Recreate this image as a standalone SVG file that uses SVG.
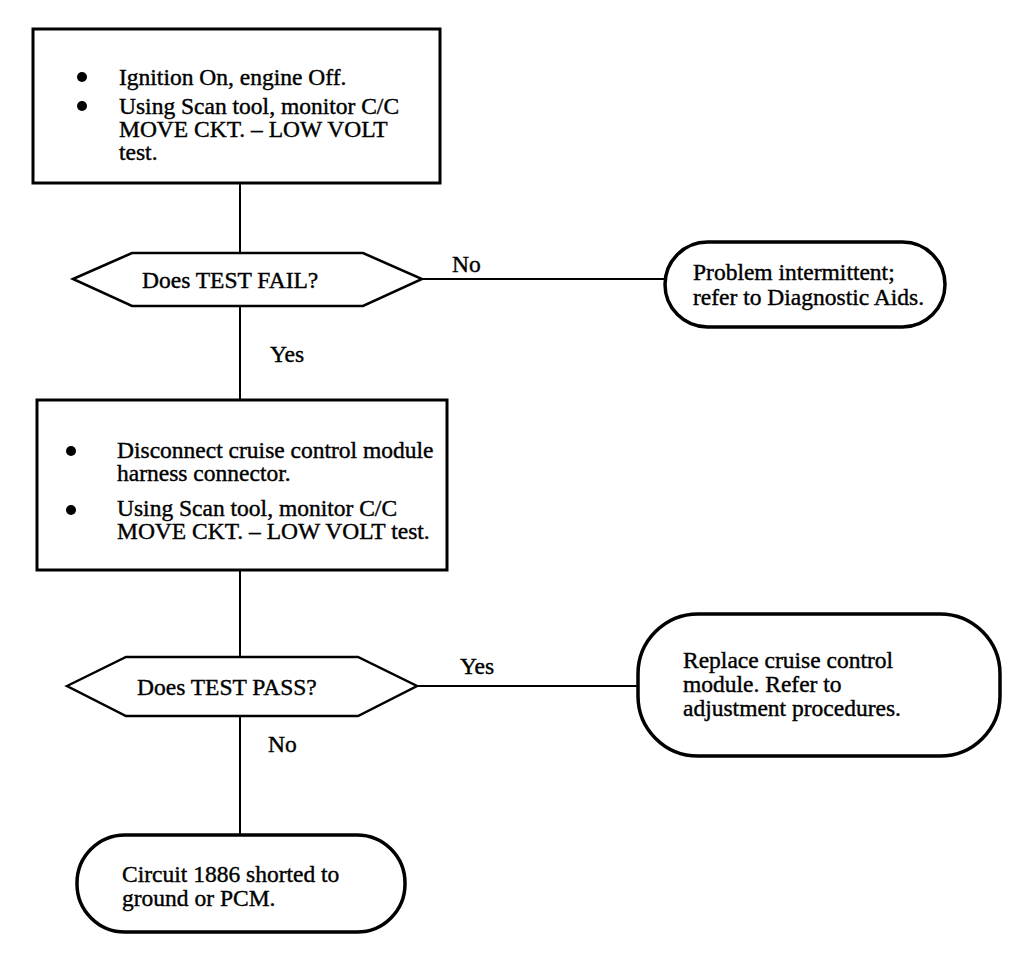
<svg xmlns="http://www.w3.org/2000/svg" width="1024" height="962" viewBox="0 0 1024 962">
<style>
.box{fill:#fff;stroke:#000;stroke-width:3}
.term{fill:#fff;stroke:#000;stroke-width:3.5}
.dec{fill:#fff;stroke:#000;stroke-width:2.5}
.ln{stroke:#000;stroke-width:2;fill:none}
text{font-family:"Liberation Serif","Times New Roman",serif;font-size:23.5px;fill:#000;stroke:#000;stroke-width:0.4}
</style>
<rect width="1024" height="962" fill="#fff"/>
<g id="connectors">
<line class="ln" x1="240" y1="183" x2="240" y2="255"/>
<line class="ln" x1="240" y1="307" x2="240" y2="400"/>
<line class="ln" x1="422" y1="279" x2="665" y2="279"/>
<line class="ln" x1="240" y1="570" x2="240" y2="657"/>
<line class="ln" x1="417" y1="686" x2="638" y2="686"/>
<line class="ln" x1="240" y1="716" x2="240" y2="835"/>
<text x="452" y="272">No</text>
<text x="270" y="362">Yes</text>
<text x="460" y="674">Yes</text>
<text x="268" y="752">No</text>
</g>
<g id="step1">
<rect class="box" x="33" y="29" width="407" height="154"/>
<circle cx="82" cy="77" r="5"/>
<circle cx="82" cy="106" r="5"/>
<text x="119" y="85">Ignition On, engine Off.</text>
<text x="119" y="114">Using Scan tool, monitor C/C</text>
<text x="119" y="137">MOVE CKT. – LOW VOLT</text>
<text x="119" y="160">test.</text>
</g>
<g id="decision1">
<polygon class="dec" points="73,279 132,253 363,253 422,279 363,306 132,306"/>
<text x="142" y="288">Does TEST FAIL?</text>
</g>
<g id="result1">
<rect class="term" x="665" y="242" width="280" height="85" rx="42.5" ry="42.5"/>
<text x="693" y="280">Problem intermittent;</text>
<text x="693" y="305">refer to Diagnostic Aids.</text>
</g>
<g id="step2">
<rect class="box" x="37" y="400" width="410" height="170"/>
<circle cx="71" cy="451" r="5"/>
<circle cx="71" cy="510" r="5"/>
<text x="117" y="458">Disconnect cruise control module</text>
<text x="117" y="481">harness connector.</text>
<text x="117" y="516">Using Scan tool, monitor C/C</text>
<text x="117" y="539">MOVE CKT. – LOW VOLT test.</text>
</g>
<g id="decision2">
<polygon class="dec" points="67,686 126,657 358,657 417,686 358,716 126,716"/>
<text x="137" y="695">Does TEST PASS?</text>
</g>
<g id="result2">
<rect class="term" x="638" y="614" width="362" height="142" rx="60" ry="60"/>
<text x="683" y="668">Replace cruise control</text>
<text x="683" y="692">module. Refer to</text>
<text x="683" y="716">adjustment procedures.</text>
</g>
<g id="result3">
<rect class="term" x="77" y="835" width="328" height="97" rx="48" ry="48"/>
<text x="122" y="882">Circuit 1886 shorted to</text>
<text x="122" y="906">ground or PCM.</text>
</g>
</svg>
